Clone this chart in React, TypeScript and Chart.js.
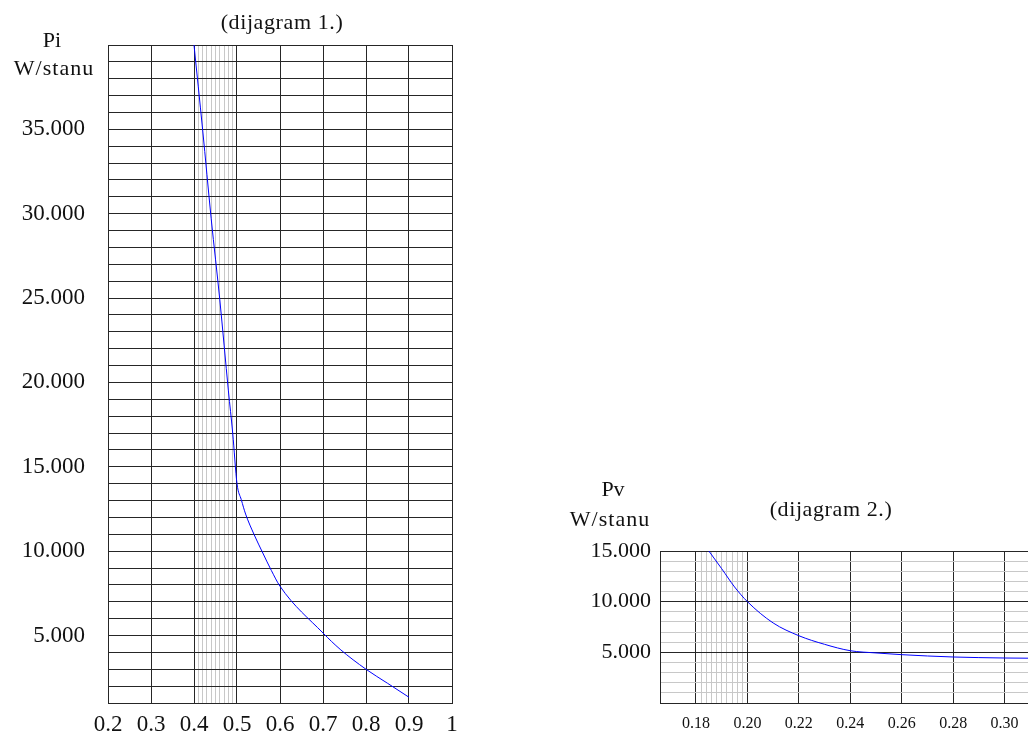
import React, { useEffect, useRef } from 'react';
import { Chart, registerables } from 'chart.js';

Chart.register(...registerables);

// ---- Diagram 1 data (Pi, W/stanu) ----
const d1X = [0.4, 0.42, 0.44, 0.46, 0.48, 0.49, 0.5, 0.51, 0.52, 0.54, 0.56, 0.58, 0.6, 0.7, 0.74, 0.8, 0.85, 0.9];
const d1Pi = [40000, 35000, 29700, 24900, 19500, 17000, 14000, 13050, 12200, 10970, 9890, 8850, 7920, 5150, 4180, 3000, 2170, 1340];
const d1XLabels = ['0.2', '0.3', '0.4', '0.5', '0.6', '0.7', '0.8', '0.9', '1'];
const d1YLabels = ['5.000', '10.000', '15.000', '20.000', '25.000', '30.000', '35.000'];

// ---- Diagram 2 data (Pv, W/stanu) ----
const d2X = [0.185, 0.19, 0.195, 0.2, 0.21, 0.22, 0.23, 0.24, 0.25, 0.26, 0.27, 0.28, 0.29, 0.3, 0.31, 0.32];
const d2Pv = [15000, 13250, 11450, 10000, 7900, 6640, 5790, 5160, 4940, 4770, 4640, 4540, 4480, 4440, 4420, 4410];
const d2XLabels = ['0.18', '0.20', '0.22', '0.24', '0.26', '0.28', '0.30', '0.32'];
const d2YLabels = ['5.000', '10.000', '15.000'];

const FONT = "'Liberation Serif', 'Times New Roman', serif";
const TEXT = '#111111';
const MAJOR = '#262626';
const MINOR = '#c8c8c8';
const NONE = 'rgba(0,0,0,0)';

const fixX = (h: number) => (s: any) => {
  s.height = h;
  s.paddingLeft = 0;
  s.paddingRight = 0;
};
const fixY = (w: number) => (s: any) => {
  s.width = w;
  s.paddingTop = 0;
  s.paddingBottom = 0;
};

function makeChart1(canvas: HTMLCanvasElement) {
  return new Chart(canvas, {
    type: 'line',
    data: {
      datasets: [
        {
          data: d1X.map((x, i) => ({ x, y: d1Pi[i] })),
          borderColor: '#0000ff',
          borderWidth: 1,
          pointRadius: 0,
          cubicInterpolationMode: 'monotone',
          fill: false,
        },
      ],
    },
    options: {
      responsive: false,
      animation: false,
      layout: { padding: { top: 45, right: 18, left: 0, bottom: 0 } },
      plugins: { legend: { display: false }, tooltip: { enabled: false }, title: { display: false } },
      scales: {
        x: {
          type: 'linear',
          min: 0.2,
          max: 1.0,
          afterFit: fixX(33),
          border: { display: true, color: MAJOR, width: 1 },
          grid: {
            drawTicks: false,
            lineWidth: 1,
            color: (ctx: any) => {
              const k = Math.round(ctx.tick.value * 100);
              if (k % 10 === 0) return MAJOR;
              if (k > 40 && k < 50) return MINOR;
              return NONE;
            },
          },
          ticks: {
            stepSize: 0.01,
            autoSkip: false,
            maxRotation: 0,
            minRotation: 0,
            padding: 8,
            color: TEXT,
            font: { family: FONT, size: 23 },
            callback: (v: any) => {
              const k = Math.round(Number(v) * 100);
              if (k % 10 !== 0) return '';
              return d1XLabels[(k - 20) / 10] ?? '';
            },
          },
        },
        y: {
          type: 'linear',
          min: 1000,
          max: 40000,
          afterFit: fixY(108),
          border: { display: true, color: MAJOR, width: 1 },
          grid: {
            drawTicks: false,
            lineWidth: 1,
            color: () => MAJOR,
          },
          ticks: {
            stepSize: 1000,
            autoSkip: false,
            padding: 23,
            color: TEXT,
            font: { family: FONT, size: 23 },
            callback: (v: any) => {
              const k = Math.round(Number(v) / 1000);
              if (k % 5 !== 0) return '';
              return d1YLabels[k / 5 - 1] ?? '';
            },
          },
        },
      },
    },
  } as any);
}

function makeChart2(canvas: HTMLCanvasElement) {
  return new Chart(canvas, {
    type: 'line',
    data: {
      datasets: [
        {
          data: d2X.map((x, i) => ({ x, y: d2Pv[i] })),
          borderColor: '#0000ff',
          borderWidth: 1,
          pointRadius: 0,
          cubicInterpolationMode: 'monotone',
          fill: false,
        },
      ],
    },
    options: {
      responsive: false,
      animation: false,
      layout: { padding: { top: 81, right: 44, left: 0, bottom: 0 } },
      plugins: { legend: { display: false }, tooltip: { enabled: false }, title: { display: false } },
      scales: {
        x: {
          type: 'linear',
          min: 0.166,
          max: 0.32,
          afterFit: fixX(33),
          border: { display: true, color: MAJOR, width: 1 },
          grid: {
            drawTicks: false,
            lineWidth: 1,
            color: (ctx: any) => {
              const k = Math.round(ctx.tick.value * 1000);
              if (k % 20 === 0) return MAJOR;
              if (k > 180 && k < 200) return MINOR;
              return NONE;
            },
          },
          ticks: {
            stepSize: 0.002,
            autoSkip: false,
            maxRotation: 0,
            minRotation: 0,
            padding: 11,
            color: TEXT,
            font: { family: FONT, size: 16 },
            callback: (v: any) => {
              const k = Math.round(Number(v) * 1000);
              if (k % 20 !== 0) return '';
              return d2XLabels[(k - 180) / 20] ?? '';
            },
          },
        },
        y: {
          type: 'linear',
          min: 0,
          max: 15000,
          afterFit: fixY(140),
          border: { display: true, color: MAJOR, width: 1 },
          grid: {
            drawTicks: false,
            lineWidth: 1,
            color: (ctx: any) => {
              const k = Math.round(ctx.tick.value / 1000);
              return k % 5 === 0 ? MAJOR : MINOR;
            },
          },
          ticks: {
            stepSize: 1000,
            autoSkip: false,
            padding: 9,
            color: TEXT,
            font: { family: FONT, size: 22 },
            callback: (v: any) => {
              const k = Math.round(Number(v) / 1000);
              if (k % 5 !== 0) return '';
              return d2YLabels[k / 5 - 1] ?? '';
            },
          },
        },
      },
    },
  } as any);
}

const labelStyle = (cx: number, top: number, w: number, extra: any = {}): React.CSSProperties => ({
  position: 'absolute',
  left: cx - w / 2,
  top,
  width: w,
  textAlign: 'center',
  fontFamily: FONT,
  fontSize: 22,
  lineHeight: '22px',
  color: TEXT,
  whiteSpace: 'nowrap',
  ...extra,
});

export default function App() {
  const c1 = useRef<HTMLCanvasElement>(null);
  const c2 = useRef<HTMLCanvasElement>(null);

  useEffect(() => {
    const ch1 = makeChart1(c1.current!);
    const ch2 = makeChart2(c2.current!);
    return () => {
      ch1.destroy();
      ch2.destroy();
    };
  }, []);

  return (
    <div
      style={{
        position: 'fixed',
        left: 0,
        top: 0,
        width: 1028,
        height: 736,
        overflow: 'hidden',
        background: '#ffffff',
      }}
    >
      <canvas
        ref={c1}
        width={470}
        height={736}
        style={{ position: 'absolute', left: 0, top: 0, width: 470, height: 736, display: 'block' }}
      />
      <canvas
        ref={c2}
        width={580}
        height={266}
        style={{ position: 'absolute', left: 520, top: 470, width: 580, height: 266, display: 'block' }}
      />
      <div style={labelStyle(52, 29, 60)}>Pi</div>
      <div style={labelStyle(54, 57, 120, { letterSpacing: '1px' })}>W/stanu</div>
      <div style={labelStyle(282, 11, 200, { letterSpacing: '0.6px' })}>(dijagram 1.)</div>
      <div style={labelStyle(613, 478, 60)}>Pv</div>
      <div style={labelStyle(610, 508, 120, { letterSpacing: '1px' })}>W/stanu</div>
      <div style={labelStyle(831, 498, 200, { letterSpacing: '0.6px' })}>(dijagram 2.)</div>
    </div>
  );
}
